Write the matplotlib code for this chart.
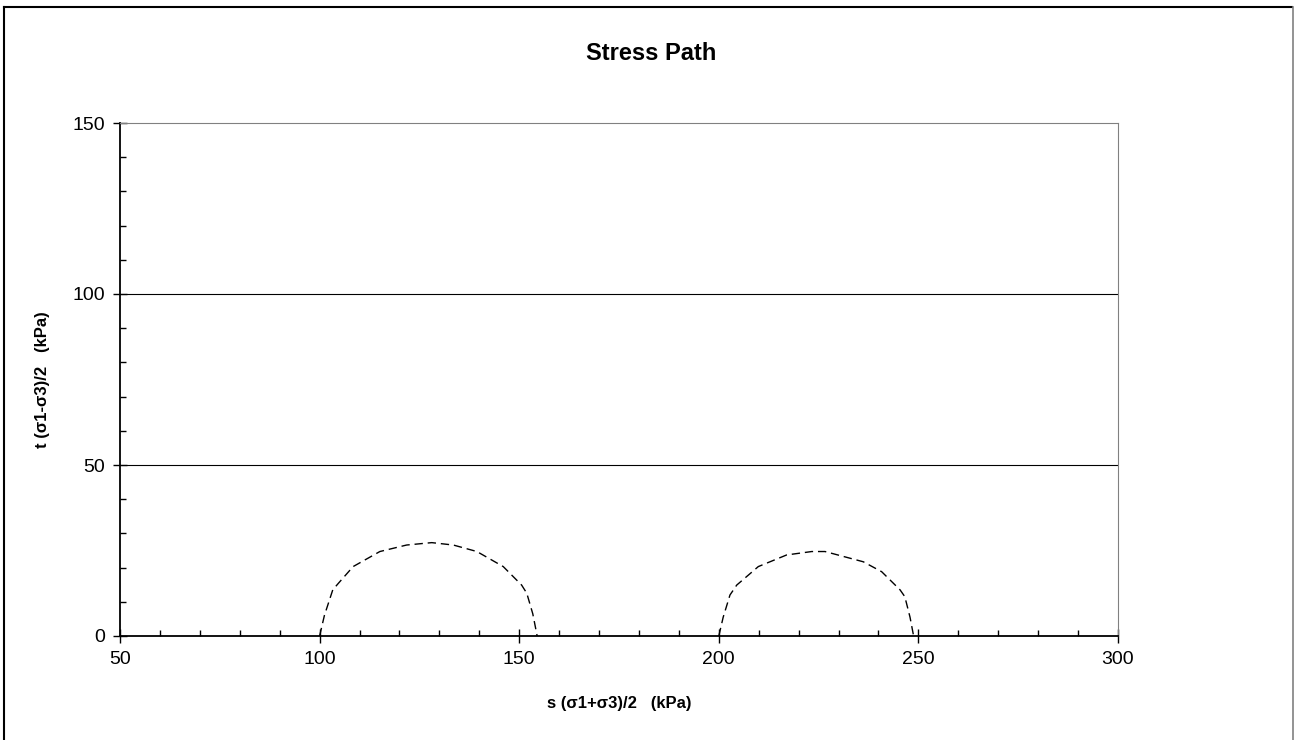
import numpy as np
import matplotlib.pyplot as plt
from matplotlib.ticker import MultipleLocator
from matplotlib.lines import Line2D

plt.rcParams['font.family'] = ['Liberation Sans', 'DejaVu Sans']

# stress path 1 (s, t) in kPa
s1 = [100.0, 101.2, 103.3, 104.7, 108.4, 115.1, 121.8, 128.1, 133.5, 139.4, 146.0, 150.6, 151.9, 153.4, 154.5]
t1 = [0.0, 6.0, 13.5, 15.4, 20.3, 24.7, 26.6, 27.3, 26.6, 24.7, 20.3, 14.9, 12.5, 6.5, 0.0]

# stress path 2
s2 = [200.0, 201.1, 202.8, 204.5, 209.9, 217.0, 223.3, 226.6, 236.2, 240.8, 245.4, 246.6, 247.9, 248.8]
t2 = [0.0, 5.5, 12.0, 14.9, 20.3, 23.7, 24.7, 24.7, 21.7, 18.8, 13.5, 11.5, 5.5, 0.0]

W, H = 1294, 740
fig = plt.figure(figsize=(W / 100, H / 100), dpi=100)
ax = fig.add_axes([120 / W, 104 / H, 998 / W, 513 / H])

ax.plot(s1, t1, color='black', lw=1.0, dashes=(6, 3.5))
ax.plot(s2, t2, color='black', lw=1.0, dashes=(6, 3.5))

ax.set_xlim(50, 300)
ax.set_ylim(0, 150)
ax.xaxis.set_major_locator(MultipleLocator(50))
ax.xaxis.set_minor_locator(MultipleLocator(10))
ax.yaxis.set_major_locator(MultipleLocator(50))
ax.yaxis.set_minor_locator(MultipleLocator(10))

ax.tick_params(which='major', direction='inout', length=10, width=1, labelsize=14, pad=6)
ax.tick_params(which='minor', direction='in', length=4.3, width=1)

# horizontal gridlines only
for yv in [50, 100]:
    ax.axhline(yv, color='black', lw=0.8, zorder=0)

ax.spines['left'].set_color('black')
ax.spines['bottom'].set_color('black')
ax.spines['left'].set_linewidth(1.3)
ax.spines['bottom'].set_linewidth(1.3)
ax.spines['top'].set_color('#808080')
ax.spines['right'].set_color('#808080')

ax.set_xlabel('s (σ1+σ3)/2   (kPa)', fontsize=12, fontweight='bold', labelpad=20)
ax.set_ylabel('t (σ1-σ3)/2   (kPa)', fontsize=12, fontweight='bold', labelpad=16)
fig.text(651 / W, 1 - 53 / H, 'Stress Path', fontsize=17, fontweight='bold',
         ha='center', va='center')

# chart area border (top and left dark, right gray, bottom cut off)
fig.lines.append(Line2D([4 / W, 1292 / W], [1 - 7 / H, 1 - 7 / H], transform=fig.transFigure,
                        color='black', lw=1.5))
fig.lines.append(Line2D([4 / W, 4 / W], [0, 1 - 7 / H], transform=fig.transFigure,
                        color='black', lw=1.5))
fig.lines.append(Line2D([1293 / W, 1293 / W], [0, 1 - 7 / H], transform=fig.transFigure,
                        color='#808080', lw=1.2))

fig.savefig('out.png', dpi=100)
